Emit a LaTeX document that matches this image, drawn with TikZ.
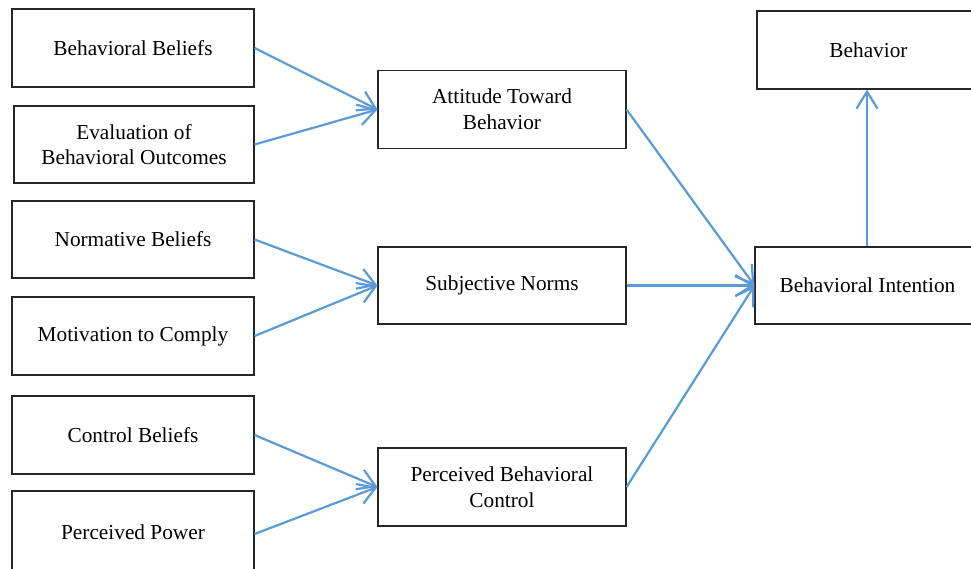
\documentclass[tikz,border=0pt]{standalone}
\usepackage{fontspec}
\setmainfont{Liberation Serif}
\usetikzlibrary{arrows.meta}
\definecolor{arrowblue}{HTML}{5B9BD5}
\definecolor{boxline}{HTML}{262626}
\tikzset{
  box/.style={draw=boxline, line width=1.1pt, rectangle, inner sep=0pt, align=center,
    font=\fontsize{21.3}{25.6}\selectfont},
  conn/.style={draw=arrowblue, line width=2.2pt, -{Straight Barb[length=17pt,width=21pt,line width=2.2pt]}}
}
\begin{document}
\begin{tikzpicture}[x=1pt,y=-1pt]
\fill[white] (0,0) rectangle (971,568);
\useasboundingbox (0,0) rectangle (971,568);
% left column
\node[box, minimum width=242pt, minimum height=78pt] (bb) at (133,48) {Behavioral Beliefs};
\node[box, minimum width=240pt, minimum height=77pt] (ev) at (134,144.5) {Evaluation of\\Behavioral Outcomes};
\node[box, minimum width=242pt, minimum height=77pt] (nb) at (133,239.5) {Normative Beliefs};
\node[box, minimum width=242pt, minimum height=78pt] (mc) at (133,336) {Motivation to Comply};
\node[box, minimum width=242pt, minimum height=78pt] (cb) at (133,435) {Control Beliefs};
\node[box, minimum width=242pt, minimum height=82pt] (pp) at (133,532) {Perceived Power};
% middle column
\node[box, minimum width=248pt, minimum height=78pt] (att) at (502,109.5) {Attitude Toward\\Behavior};
\node[box, minimum width=248pt, minimum height=77pt] (sn) at (502,285.5) {Subjective Norms};
\node[box, minimum width=248pt, minimum height=78pt] (pbc) at (502,487) {Perceived Behavioral\\Control};
% right column
\node[box, minimum width=225pt, minimum height=77pt] (bi) at (867.5,285.5) {Behavioral Intention};
\node[box, minimum width=223pt, minimum height=78pt] (beh) at (868.5,50) {Behavior};
% connectors
\draw[conn] (bb.east) -- (att.west);
\draw[conn] (ev.east) -- (att.west);
\draw[conn] (nb.east) -- (sn.west);
\draw[conn] (mc.east) -- (sn.west);
\draw[conn] (cb.east) -- (pbc.west);
\draw[conn] ([yshift=-2pt]pp.east) -- (pbc.west);
\draw[conn] (att.east) -- (bi.west);
\draw[conn] (sn.east) -- (bi.west);
\draw[conn] (pbc.east) -- (bi.west);
\draw[conn] (bi.north -| 867,0) -- (beh.south -| 867,0);
\end{tikzpicture}
\end{document}
